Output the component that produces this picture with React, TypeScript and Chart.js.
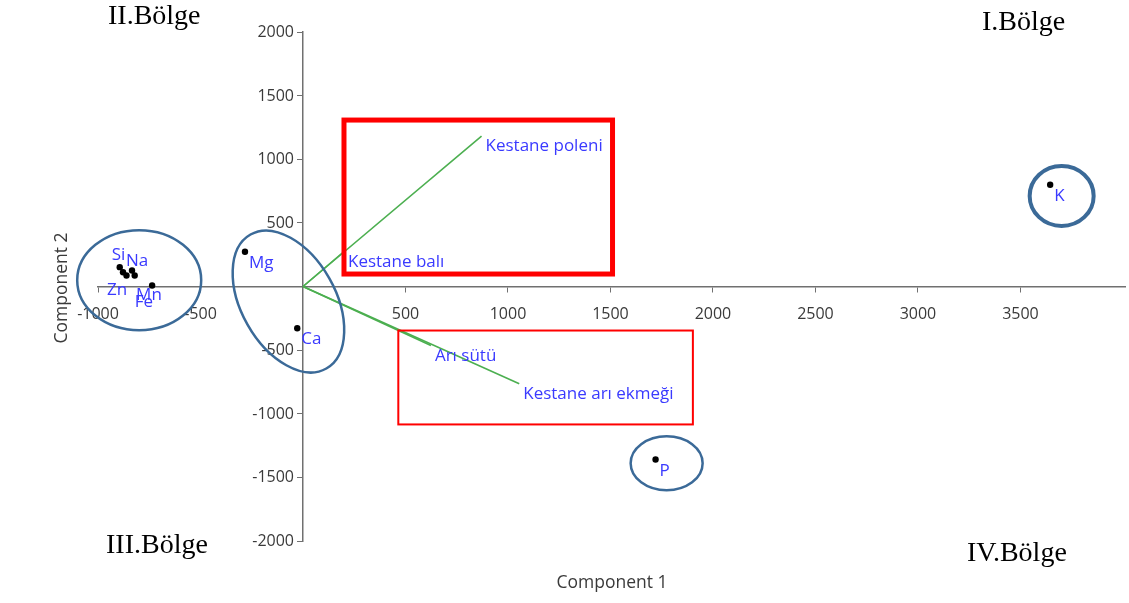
import React, { useEffect, useRef } from 'react';
import { Chart, registerables } from 'chart.js';

Chart.register(...registerables);

// ---- data ----
const elementNames = ['Si', 'Zn', '', 'Na', 'Fe', 'Mn', 'Mg', 'Ca', 'K', 'P'];
const elementX = [-894, -878, -861, -834, -821, -736, -283, -28, 3645, 1720];
const elementY = [152, 112, 86, 126, 86, 8, 273, -328, 800, -1360];

const vectorNames = ['Kestane poleni', 'Kestane balı', 'Arı sütü', 'Kestane arı ekmeği'];
const vectorX = [871, 200, 624, 1055];
const vectorY = [1181, 275, -464, -765];

const xTicks = [-1000, -500, 500, 1000, 1500, 2000, 2500, 3000, 3500];
const yTicks = [-2000, -1500, -1000, -500, 500, 1000, 1500, 2000];

const regionLabels = ['I.Bölge', 'II.Bölge', 'III.Bölge', 'IV.Bölge'];
const axisTitles = ['Component 1', 'Component 2'];

// ---- annotation layout (highlight boxes in data units, circles centred in data units) ----
const highlightBoxes = [
  { x1: 200, x2: 1510, y1: 1308, y2: 98, width: 5 },
  { x1: 465, x2: 1902, y1: -346, y2: -1084, width: 2 },
];
const highlightEllipses = [
  { cx: -799, cy: 50, rx: 62, ry: 50, rot: 0, width: 2.5 },
  { cx: -71, cy: -118, rx: 77, ry: 47, rot: 60.5, width: 2.5 },
  { cx: 1774, cy: -1389, rx: 36, ry: 27, rot: 0, width: 2.5 },
  { cx: 3701, cy: 712, rx: 32, ry: 30, rot: 0, width: 4 },
];
const labelOffsets: Record<string, [number, number]> = {
  Si: [-8, -7],
  Na: [-6, -4.5],
  Zn: [-16, 23],
  Fe: [0, 31.5],
  Mn: [-16, 15],
};

const TICK_FONT = '"Open Sans", "Noto Sans", sans-serif';
const LABEL_BLUE = '#3a3aff';
const AXIS_GRAY = '#707070';
const TICK_COLOR = '#3a3a3a';

const overlayPlugin = {
  id: 'overlay',
  afterDatasetsDraw(chart: any) {
    const ctx = chart.ctx as CanvasRenderingContext2D;
    const xs = chart.scales.x;
    const ys = chart.scales.y;
    ctx.save();

    // y tick labels, left of the centred axis
    ctx.fillStyle = TICK_COLOR;
    ctx.font = '16px ' + TICK_FONT;
    ctx.textAlign = 'right';
    ctx.textBaseline = 'middle';
    const x0 = xs.getPixelForValue(0);
    ys.ticks.forEach((t: any) => {
      ctx.fillText(String(t.value), x0 - 9, ys.getPixelForValue(t.value) + 0.5);
    });

    // red highlight boxes
    ctx.strokeStyle = '#ff0000';
    highlightBoxes.forEach((b) => {
      const x1 = xs.getPixelForValue(b.x1);
      const x2 = xs.getPixelForValue(b.x2);
      const y1 = ys.getPixelForValue(b.y1);
      const y2 = ys.getPixelForValue(b.y2);
      ctx.lineWidth = b.width;
      ctx.strokeRect(x1, y1, x2 - x1, y2 - y1);
    });

    // blue ellipses
    ctx.strokeStyle = '#3b6a98';
    highlightEllipses.forEach((e) => {
      ctx.beginPath();
      ctx.lineWidth = e.width;
      ctx.ellipse(xs.getPixelForValue(e.cx), ys.getPixelForValue(e.cy), e.rx, e.ry, (e.rot * Math.PI) / 180, 0, Math.PI * 2);
      ctx.stroke();
    });

    // point labels
    ctx.fillStyle = LABEL_BLUE;
    ctx.font = '17px ' + TICK_FONT;
    ctx.textAlign = 'left';
    ctx.textBaseline = 'alphabetic';
    elementNames.forEach((n, i) => {
      if (!n) return;
      const px = xs.getPixelForValue(elementX[i]);
      const py = ys.getPixelForValue(elementY[i]);
      const off = labelOffsets[n] || [4, 16];
      ctx.fillText(n, px + off[0], py + off[1]);
    });
    vectorNames.forEach((n, i) => {
      const px = xs.getPixelForValue(vectorX[i]);
      const py = ys.getPixelForValue(vectorY[i]);
      ctx.fillText(n, px + 4, py + 15);
    });

    ctx.restore();
  },
  afterDraw(chart: any) {
    const ctx = chart.ctx as CanvasRenderingContext2D;
    ctx.save();
    // region labels
    ctx.fillStyle = '#000';
    ctx.font = '28px "Liberation Serif", "Times New Roman", serif';
    ctx.textAlign = 'left';
    ctx.textBaseline = 'alphabetic';
    ctx.fillText(regionLabels[0], 982, 29.5);
    ctx.fillText(regionLabels[1], 108, 24);
    ctx.fillText(regionLabels[2], 106, 553);
    ctx.fillText(regionLabels[3], 967, 561);

    // axis titles
    ctx.fillStyle = TICK_COLOR;
    ctx.font = '17.5px ' + TICK_FONT;
    ctx.textAlign = 'center';
    ctx.textBaseline = 'middle';
    ctx.fillText(axisTitles[0], 612, 583);
    ctx.translate(62, 288);
    ctx.rotate(-Math.PI / 2);
    ctx.fillText(axisTitles[1], 0, 0);
    ctx.restore();
  },
};

export default function App() {
  const ref = useRef<HTMLCanvasElement | null>(null);

  useEffect(() => {
    if (!ref.current) return;
    const pointData = elementX.map((x, i) => ({ x, y: elementY[i] }));
    const vectorSets = vectorNames.map((name, i) => ({
      label: name,
      data: [
        { x: 0, y: 0 },
        { x: vectorX[i], y: vectorY[i] },
      ],
      showLine: true,
      borderColor: 'rgb(76,175,80)',
      borderWidth: 1.6,
      pointRadius: 0,
      pointHoverRadius: 0,
      fill: false,
    }));

    const chart = new Chart(ref.current, {
      type: 'scatter',
      data: {
        datasets: [
          ...vectorSets,
          {
            label: 'Elements',
            data: pointData,
            pointRadius: 3.2,
            pointBackgroundColor: '#000',
            pointBorderWidth: 0,
            showLine: false,
          },
        ],
      } as any,
      options: {
        animation: false,
        responsive: false,
        devicePixelRatio: 1,
        layout: { padding: { left: 98, right: 2, top: 32, bottom: 62 } },
        plugins: {
          legend: { display: false },
          tooltip: { enabled: false },
        },
        scales: {
          x: {
            type: 'linear',
            min: -1000,
            max: 4010,
            position: { y: 0 } as any,
            afterBuildTicks: (s: any) => {
              s.ticks = xTicks.map((v) => ({ value: v }));
            },
            ticks: {
              color: TICK_COLOR,
              font: { family: TICK_FONT, size: 16 },
              padding: 13,
              maxRotation: 0,
              autoSkip: false,
              callback: (v: any) => String(v),
            },
            grid: { drawOnChartArea: false, drawTicks: true, tickLength: 5, color: AXIS_GRAY },
            border: { display: true, color: AXIS_GRAY, width: 1.5 },
          },
          y: {
            type: 'linear',
            min: -2000,
            max: 2000,
            position: { x: 0 } as any,
            afterBuildTicks: (s: any) => {
              s.ticks = yTicks.map((v) => ({ value: v }));
            },
            ticks: {
              display: false,
              autoSkip: false,
            },
            grid: { drawOnChartArea: false, drawTicks: true, tickLength: 5, color: AXIS_GRAY },
            border: { display: true, color: AXIS_GRAY, width: 1.5 },
          },
        },
      } as any,
      plugins: [overlayPlugin],
    });
    return () => chart.destroy();
  }, []);

  return (
    <div style={{ position: 'absolute', left: 0, top: 0, width: 1129, height: 603, background: '#fff' }}>
      <canvas ref={ref} width={1129} height={603} style={{ display: 'block', width: 1129, height: 603 }} />
    </div>
  );
}
